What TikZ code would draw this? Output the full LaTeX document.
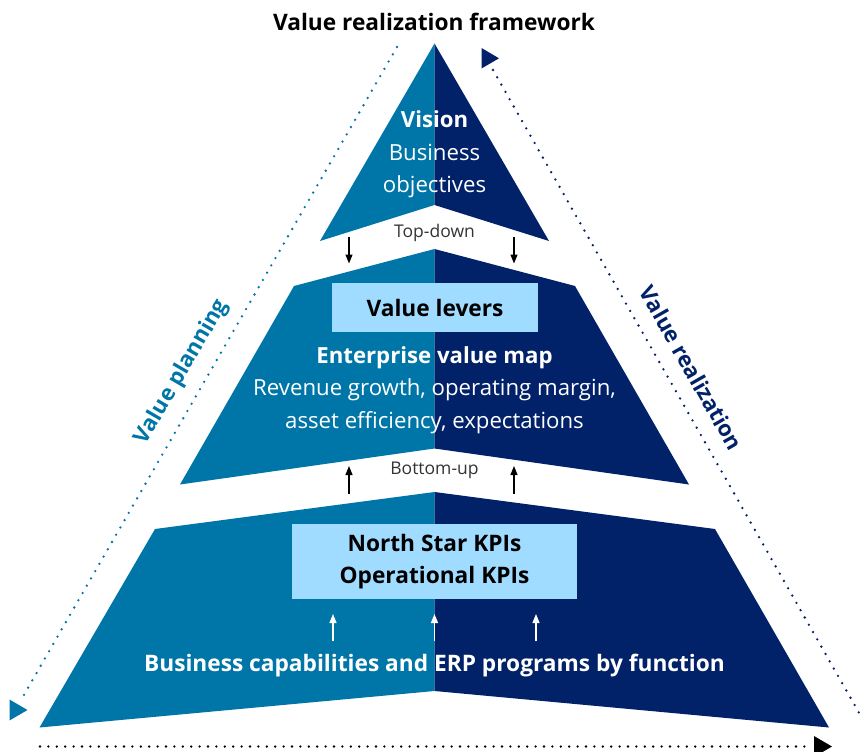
\documentclass[tikz,border=0pt]{standalone}
\usepackage{fontspec}
\setmainfont{Open Sans}
\usetikzlibrary{arrows.meta}
\definecolor{lblue}{HTML}{0076A8}
\definecolor{navy}{HTML}{012169}
\definecolor{pale}{HTML}{A0DCFF}
\tikzset{
  lt/.style={fill=lblue,draw=none},
  dk/.style={fill=navy,draw=none},
  wtxt/.style={text=white,font=\fontsize{22.2}{26}\selectfont,align=center,inner sep=0pt},
  btxt/.style={text=black,font=\fontsize{22.7}{26}\selectfont\bfseries,align=center,inner sep=0pt},
  smalltxt/.style={text=black!80,font=\fontsize{17.5}{20}\selectfont,inner sep=0pt},
  blkarrow/.style={draw=black,line width=1.2pt,-{Triangle[length=9pt,width=7pt]}},
  wharrow/.style={draw=white,line width=1.2pt,-{Triangle[length=9pt,width=7pt]}},
  dots/.style={line width=2.6pt,line cap=round,dash pattern=on 0pt off 8.4pt},
  sidetxt/.style={font=\fontsize{22}{24}\selectfont\bfseries,inner sep=0pt}
}
\begin{document}
\begin{tikzpicture}[x=1pt,y=-1pt]
\useasboundingbox (0,0) rectangle (865,752);
% title
\node[btxt] (title) at (434,22) {Value realization framework};
% top triangle
\fill[lt] (434.5,43.5) -- (320,241) -- (434.5,205) -- cycle;
\fill[dk] (434.5,43.5) -- (549,241) -- (434.5,205) -- cycle;
% middle trapezoid
\fill[lt] (434.5,249) -- (294,286) -- (180,484.5) -- (434.5,448.5) -- cycle;
\fill[dk] (434.5,249) -- (575,286) -- (689,484.5) -- (434.5,448.5) -- cycle;
% bottom trapezoid
\fill[lt] (434.5,492) -- (155,529) -- (39.5,727.5) -- (434.5,691) -- cycle;
\fill[dk] (434.5,492) -- (715,529) -- (829,727.5) -- (434.5,691) -- cycle;
% boxes
\node[fill=pale,minimum width=206pt,minimum height=48.5pt,inner sep=0pt,btxt] (levers) at (435,307.5) {Value levers};
\node[fill=pale,minimum width=285pt,minimum height=75pt,inner sep=0pt,btxt,font=\fontsize{22.7}{32}\selectfont\bfseries] (kpis) at (434.5,561.5) {North Star KPIs\\Operational KPIs};
% texts
\node[wtxt] (vision) at (434.5,154) {\textbf{Vision}\\[6.5pt]Business\\[6pt]objectives};
\node[wtxt] (evm) at (434.5,390) {\textbf{Enterprise value map}\\[6pt]Revenue growth, operating margin,\\[6.5pt]asset efficiency, expectations};
\node[wtxt,font=\fontsize{22.7}{26}\selectfont\bfseries] (caps) at (434.5,666) {Business capabilities and ERP programs by function};
\node[smalltxt] (td) at (434.5,233) {Top-down};
\node[smalltxt] (bu) at (434.5,470) {Bottom-up};
% arrows
\coordinate (td1s) at (349,236.5); \coordinate (td1e) at (349,263.5);
\coordinate (td2s) at (514,236.5); \coordinate (td2e) at (514,263.5);
\coordinate (bu1s) at (349,493.5); \coordinate (bu1e) at (349,466);
\coordinate (bu2s) at (514,493.5); \coordinate (bu2e) at (514,466);
\draw[blkarrow] (td1s) -- (td1e);
\draw[blkarrow] (td2s) -- (td2e);
\draw[blkarrow] (bu1s) -- (bu1e);
\draw[blkarrow] (bu2s) -- (bu2e);
\coordinate (w1s) at (333,641); \coordinate (w1e) at (333,614);
\coordinate (w2s) at (434.5,641); \coordinate (w2e) at (434.5,614);
\coordinate (w3s) at (536,641); \coordinate (w3e) at (536,614);
\draw[wharrow] (w1s) -- (w1e);
\draw[wharrow] (w2s) -- (w2e);
\draw[wharrow] (w3s) -- (w3e);
% dotted lines
\coordinate (lp1) at (397,47); \coordinate (lp2) at (21,700);
\draw[dots,lblue] (lp1) -- (lp2);
\fill[lblue] (9.5,699.5) -- (27.5,710) -- (9.5,720.5) -- cycle;
\coordinate (rr1) at (493,70); \coordinate (rr2) at (862,718);
\draw[dots,navy] (rr1) -- (rr2);
\fill[navy] (481.5,48) -- (499,58.3) -- (481.5,68.5) -- cycle;
\coordinate (bb1) at (40,746.5); \coordinate (bb2) at (810,746.5);
\draw[dots,black] (bb1) -- (bb2);
\fill[black] (814,736) -- (832,746.5) -- (814,757) -- cycle;
% side labels
\node[sidetxt,text=lblue,rotate=59.8] (vp) at (182,372) {Value planning};
\node[sidetxt,text=navy,rotate=-60.3] (vr) at (691.5,368) {Value realization};
\end{tikzpicture}
\end{document}
